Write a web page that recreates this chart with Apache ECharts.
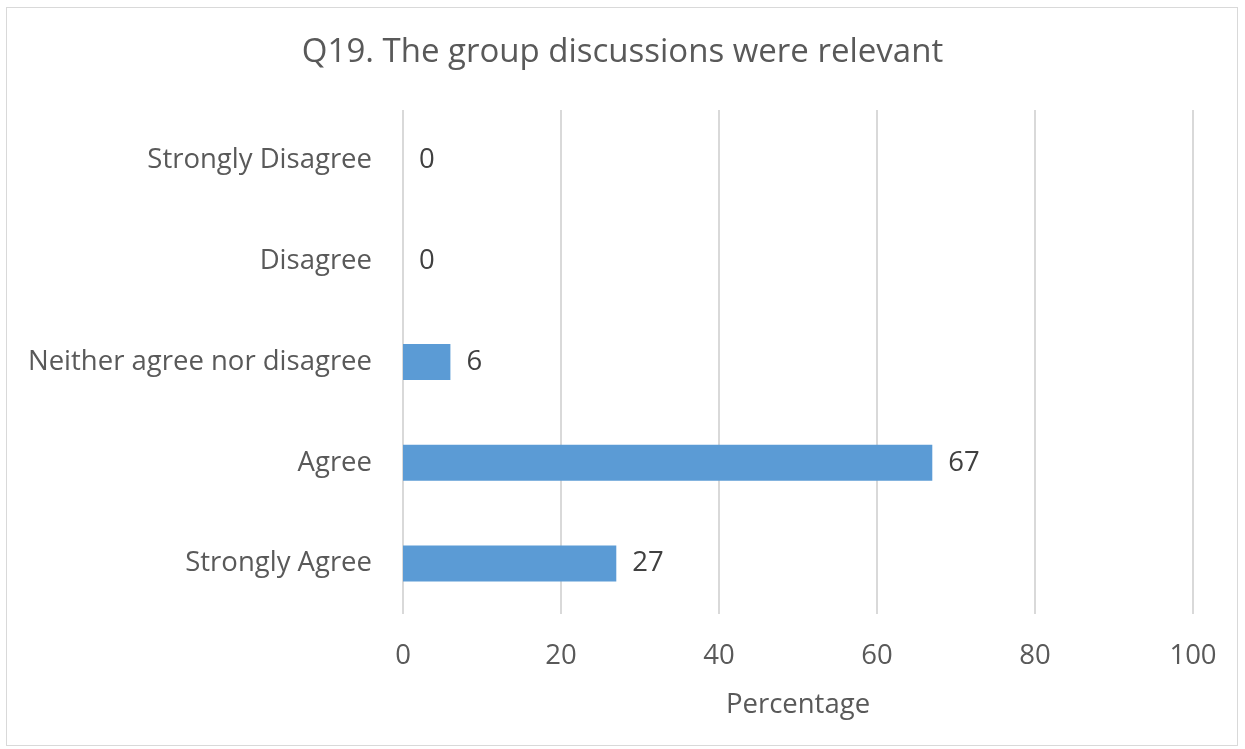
<!DOCTYPE html>
<html>
<head>
<meta charset="utf-8">
<script src="https://cdn.jsdelivr.net/npm/echarts@6/dist/echarts.min.js"></script>
<style>
  html, body { margin: 0; padding: 0; background: #fff; }
  #wrap { position: absolute; left: 6px; top: 7px; width: 1232px; height: 739px; border: 1px solid #d9d9d9; box-sizing: border-box; }
  #chart { position: absolute; left: 0; top: 0; width: 1245px; height: 749px; }
</style>
</head>
<body>
<div id="wrap"></div>
<div id="chart"></div>
<script>
// Survey responses, top to bottom
const categories = ['Strongly Disagree', 'Disagree', 'Neither agree nor disagree', 'Agree', 'Strongly Agree'];
const percentages = [0, 0, 6, 67, 27];
const titleText = 'Q19. The group discussions were relevant';
const axisName = 'Percentage';

const FONT = '"Open Sans", "Liberation Sans", sans-serif';
const TEXT = '#595959';
const LABEL_SIZE = 27.5;

const chart = echarts.init(document.getElementById('chart'), null, { renderer: 'canvas' });
chart.setOption({
  backgroundColor: 'transparent',
  animation: false,
  title: {
    text: titleText,
    left: 'center',
    top: 31,
    textStyle: { fontFamily: FONT, fontSize: 33, fontWeight: 'normal', color: TEXT }
  },
  grid: { left: 403, right: 52, top: 110, bottom: 135, containLabel: false },
  xAxis: {
    type: 'value',
    min: 0,
    max: 100,
    interval: 20,
    name: axisName,
    nameLocation: 'middle',
    nameGap: 77,
    nameTextStyle: { fontFamily: FONT, fontSize: LABEL_SIZE, color: TEXT },
    axisLine: { show: false },
    axisTick: { show: false },
    axisLabel: { fontFamily: FONT, fontSize: LABEL_SIZE, color: TEXT, margin: 28 },
    splitLine: { show: true, lineStyle: { color: '#d9d9d9', width: 2 } }
  },
  yAxis: {
    type: 'category',
    inverse: true,
    data: categories,
    axisLine: { show: false },
    axisTick: { show: false },
    axisLabel: { fontFamily: FONT, fontSize: LABEL_SIZE, color: TEXT, margin: 31 }
  },
  series: [{
    type: 'bar',
    data: percentages,
    barWidth: 36,
    itemStyle: { color: '#5b9bd5' },
    label: {
      show: true,
      position: 'right',
      distance: 16,
      fontFamily: FONT,
      fontSize: LABEL_SIZE,
      color: '#404040'
    }
  }]
});
</script>
</body>
</html>
